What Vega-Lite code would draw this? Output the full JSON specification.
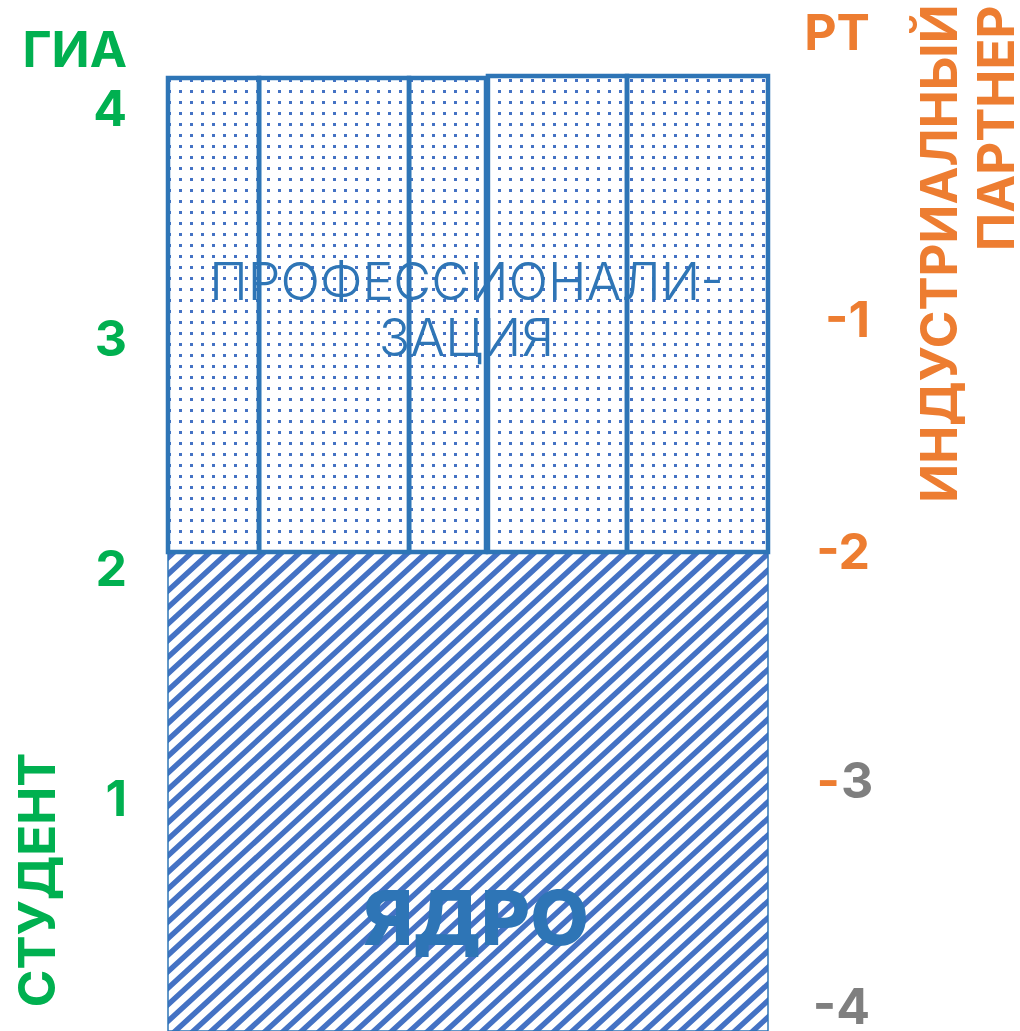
{
"$schema":"https://vega.github.io/schema/vega-lite/v6.json",
"width":1020,"height":1031,"padding":0,"autosize":{"type":"none"},
"background":"#ffffff",
"config":{"view":{"stroke":null},"text":{"font":"Inter"}},
"datasets":{
 "zones":[
  {"zone":"ЯДРО","x0":0,"x1":4,"y0":0,"y1":2.083,"xm":2,"ym":1.04},
  {"zone":"ПРОФЕССИОНАЛИЗАЦИЯ","x0":0,"x1":4,"y0":2.083,"y1":4.143,"xm":2,"ym":3.113}
 ],
 "texture":[
  {"part":"hatch","x0":0.2427,"y0":2.291,"x1":3.757,"y1":-0.208},
  {"part":"mask","x0":-1.2,"y0":-0.5,"x1":0,"y1":4.6},
  {"part":"mask","x0":4,"y0":-0.5,"x1":5.8,"y1":4.6}
 ],
 "modules":[
  {"m":1,"x0":0,"x1":0.607,"y0":2.083,"y1":4.143},
  {"m":2,"x0":0.607,"x1":1.607,"y0":2.083,"y1":4.143},
  {"m":3,"x0":1.607,"x1":2.12,"y0":2.083,"y1":4.143},
  {"m":4,"x0":2.133,"x1":3.06,"y0":2.083,"y1":4.152},
  {"m":5,"x0":3.06,"x1":4,"y0":2.083,"y1":4.152}
 ],
 "axisLabels":[
  {"text":"ГИА","x":-0.273,"y":4.257,"kind":"ГИА","align":"end"},
  {"text":"4","x":-0.273,"y":4,"kind":"ГИА","align":"end"},
  {"text":"3","x":-0.273,"y":3,"kind":"ГИА","align":"end"},
  {"text":"2","x":-0.273,"y":2,"kind":"ГИА","align":"end"},
  {"text":"1","x":-0.273,"y":1,"kind":"ГИА","align":"end"},
  {"text":"РТ","x":4.68,"y":4.33,"kind":"РТ","align":"end"},
  {"text":"-1","x":4.68,"y":3.083,"kind":"РТ","align":"end"},
  {"text":"-2","x":4.68,"y":2.075,"kind":"РТ","align":"end"},
  {"text":"-","x":4.48,"y":1.078,"kind":"РТ","align":"end"},
  {"text":"3","x":4.487,"y":1.078,"kind":"РТ вне","align":"start"},
  {"text":"-4","x":4.68,"y":0.095,"kind":"РТ вне","align":"end"}
 ],
 "titles":[
  {"text":"СТУДЕНТ","x":-0.853,"y":0.657,"kind":"ГИА"},
  {"text":"ИНДУСТРИАЛНЫЙ","x":5.16,"y":3.38,"kind":"РТ"},
  {"text":"ПАРТНЕР","x":5.54,"y":3.925,"kind":"РТ"}
 ],
 "zoneLabels":[
  {"text":"ПРОФЕССИОНАЛИ-\nЗАЦИЯ","zone":"prof","x":1.99,"y":3.248},
  {"text":"ЯДРО","zone":"core","x":2.053,"y":0.474}
 ]
},
"layer":[
 {"data":{"name":"texture"},"transform":[{"filter":{"field":"part","equal":"hatch"}}],
  "mark":{"type":"rule","color":"#4472C4","strokeWidth":780,"strokeDash":[5.4,6.8],"strokeCap":"butt"},
  "encoding":{
   "x":{"field":"x0","type":"quantitative","scale":{"domain":[-1.12,5.68],"nice":false,"zero":false},"axis":null},
   "y":{"field":"y0","type":"quantitative","scale":{"domain":[0,4.4826],"nice":false,"zero":false},"axis":null},
   "x2":{"field":"x1"},
   "y2":{"field":"y1"}
  }},
 {"data":{"name":"texture"},"transform":[{"filter":{"field":"part","equal":"mask"}}],
  "mark":{"type":"rect","color":"#ffffff","strokeWidth":0},
  "encoding":{
   "x":{"field":"x0","type":"quantitative","scale":{"domain":[-1.12,5.68],"nice":false,"zero":false},"axis":null},
   "x2":{"field":"x1"},
   "y":{"field":"y0","type":"quantitative","scale":{"domain":[0,4.4826],"nice":false,"zero":false},"axis":null},
   "y2":{"field":"y1"}
  }},
 {"data":{"name":"zones"},"transform":[{"filter":{"field":"zone","equal":"ПРОФЕССИОНАЛИЗАЦИЯ"}}],
  "mark":{"type":"rect","color":"#ffffff","strokeWidth":0},
  "encoding":{
   "x":{"field":"x0","type":"quantitative","scale":{"domain":[-1.12,5.68],"nice":false,"zero":false},"axis":null},
   "x2":{"field":"x1"},
   "y":{"field":"y0","type":"quantitative","scale":{"domain":[0,4.4826],"nice":false,"zero":false},"axis":null},
   "y2":{"field":"y1"}
  }},
 {"data":{"name":"zones"},"transform":[{"filter":{"field":"zone","equal":"ПРОФЕССИОНАЛИЗАЦИЯ"}}],
  "mark":{"type":"rule","color":"#4472C4","strokeWidth":474,"strokeDash":[3,8],"strokeCap":"butt"},
  "encoding":{
   "x":{"field":"x0","type":"quantitative","scale":{"domain":[-1.12,5.68],"nice":false,"zero":false},"axis":null},
   "x2":{"field":"x1"},
   "y":{"field":"ym","type":"quantitative","scale":{"domain":[0,4.4826],"nice":false,"zero":false},"axis":null}
  }},
 {"data":{"name":"zones"},"transform":[{"filter":{"field":"zone","equal":"ПРОФЕССИОНАЛИЗАЦИЯ"}}],
  "mark":{"type":"rule","color":"#ffffff","strokeWidth":601,"strokeDash":[8,3],"strokeCap":"butt"},
  "encoding":{
   "x":{"field":"xm","type":"quantitative","scale":{"domain":[-1.12,5.68],"nice":false,"zero":false},"axis":null},
   "y":{"field":"y0","type":"quantitative","scale":{"domain":[0,4.4826],"nice":false,"zero":false},"axis":null},
   "y2":{"field":"y1"}
  }},
 {"data":{"name":"zones"},"transform":[{"filter":{"field":"zone","equal":"ЯДРО"}}],
  "mark":{"type":"rect","filled":false,"color":"#2E75B6","strokeWidth":1.5},
  "encoding":{
   "x":{"field":"x0","type":"quantitative","scale":{"domain":[-1.12,5.68],"nice":false,"zero":false},"axis":null},
   "x2":{"field":"x1"},
   "y":{"field":"y0","type":"quantitative","scale":{"domain":[0,4.4826],"nice":false,"zero":false},"axis":null},
   "y2":{"field":"y1"}
  }},
 {"data":{"name":"modules"},
  "mark":{"type":"rect","filled":false,"color":"#2E75B6","strokeWidth":4.5},
  "encoding":{
   "x":{"field":"x0","type":"quantitative","scale":{"domain":[-1.12,5.68],"nice":false,"zero":false},"axis":null},
   "x2":{"field":"x1"},
   "y":{"field":"y0","type":"quantitative","scale":{"domain":[0,4.4826],"nice":false,"zero":false},"axis":null},
   "y2":{"field":"y1"}
  }},
 {"data":{"name":"axisLabels"},"transform":[{"filter":{"field":"align","equal":"end"}}],
  "mark":{"type":"text","align":"right","baseline":"middle","fontSize":50,"fontWeight":"bold"},
  "encoding":{
   "x":{"field":"x","type":"quantitative","scale":{"domain":[-1.12,5.68],"nice":false,"zero":false},"axis":null},
   "y":{"field":"y","type":"quantitative","scale":{"domain":[0,4.4826],"nice":false,"zero":false},"axis":null},
   "text":{"field":"text"},
   "color":{"field":"kind","type":"nominal","scale":{"domain":["ГИА","РТ","РТ вне"],"range":["#00B050","#ED7D31","#7F7F7F"]},"legend":null}
  }},
 {"data":{"name":"axisLabels"},"transform":[{"filter":{"field":"align","equal":"start"}}],
  "mark":{"type":"text","align":"left","baseline":"middle","fontSize":50,"fontWeight":"bold"},
  "encoding":{
   "x":{"field":"x","type":"quantitative","scale":{"domain":[-1.12,5.68],"nice":false,"zero":false},"axis":null},
   "y":{"field":"y","type":"quantitative","scale":{"domain":[0,4.4826],"nice":false,"zero":false},"axis":null},
   "text":{"field":"text"},
   "color":{"field":"kind","type":"nominal","scale":{"domain":["ГИА","РТ","РТ вне"],"range":["#00B050","#ED7D31","#7F7F7F"]},"legend":null}
  }},
 {"data":{"name":"titles"},
  "mark":{"type":"text","align":"center","baseline":"middle","fontSize":51,"fontWeight":"bold","angle":270},
  "encoding":{
   "x":{"field":"x","type":"quantitative","scale":{"domain":[-1.12,5.68],"nice":false,"zero":false},"axis":null},
   "y":{"field":"y","type":"quantitative","scale":{"domain":[0,4.4826],"nice":false,"zero":false},"axis":null},
   "text":{"field":"text"},
   "color":{"field":"kind","type":"nominal","scale":{"domain":["ГИА","РТ","РТ вне"],"range":["#00B050","#ED7D31","#7F7F7F"]},"legend":null}
  }},
 {"data":{"name":"zoneLabels"},"transform":[{"filter":{"field":"zone","equal":"prof"}}],
  "mark":{"type":"text","align":"center","baseline":"middle","fontSize":52,"fontWeight":300,"color":"#2E75B6","lineBreak":"\n","lineHeight":56},
  "encoding":{
   "x":{"field":"x","type":"quantitative","scale":{"domain":[-1.12,5.68],"nice":false,"zero":false},"axis":null},
   "y":{"field":"y","type":"quantitative","scale":{"domain":[0,4.4826],"nice":false,"zero":false},"axis":null},
   "text":{"field":"text"}
  }},
 {"data":{"name":"zoneLabels"},"transform":[{"filter":{"field":"zone","equal":"core"}}],
  "mark":{"type":"text","align":"center","baseline":"middle","fontSize":76,"fontWeight":800,"color":"#2E75B6"},
  "encoding":{
   "x":{"field":"x","type":"quantitative","scale":{"domain":[-1.12,5.68],"nice":false,"zero":false},"axis":null},
   "y":{"field":"y","type":"quantitative","scale":{"domain":[0,4.4826],"nice":false,"zero":false},"axis":null},
   "text":{"field":"text"}
  }}
]
}
